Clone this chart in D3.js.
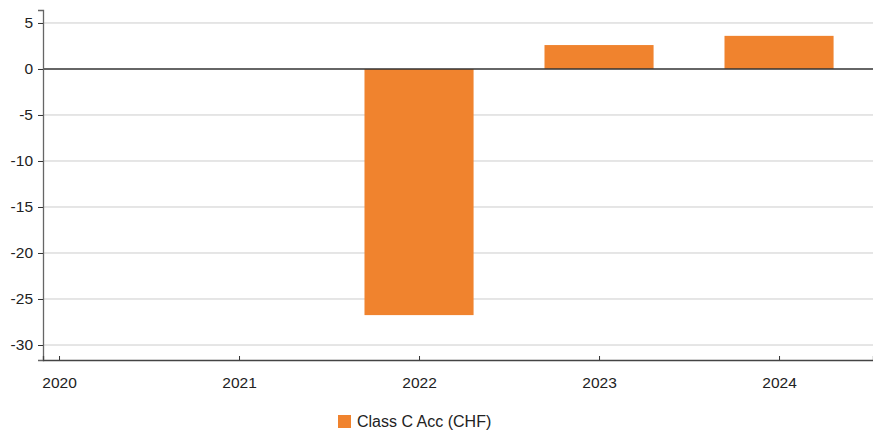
<!DOCTYPE html>
<html>
<head>
<meta charset="utf-8">
<script src="https://cdn.jsdelivr.net/npm/d3@7"></script>
<style>
  body { margin: 0; background: #fff; }
  text { font-family: "Liberation Sans", Arial, sans-serif; }
</style>
</head>
<body>
<svg id="chart" width="873" height="430"></svg>
<script>
// data
var years = [2020, 2021, 2022, 2023, 2024]
var values = [null, null, -26.75, 2.6, 3.6]
var yTicks = [5, 0, -5, -10, -15, -20, -25, -30]
var seriesName = "Class C Acc (CHF)"

var svg = d3.select("#chart")
var plotL = 43, plotR = 873, plotT = 10, plotB = 360

var x = d3.scaleLinear().domain([2019.911, 2024.522]).range([plotL, plotR])
var y = d3.scaleLinear().domain([-31.63, 6.41]).range([plotB, plotT])
var barW = x(2020.606) - x(2020)

// grid
svg.append("g").selectAll("line").data(yTicks.filter(d => d !== 0)).join("line")
  .attr("x1", plotL).attr("x2", plotR)
  .attr("y1", d => y(d)).attr("y2", d => y(d))
  .attr("stroke", "#cccccc").attr("stroke-width", 1)

// bars
svg.append("g").selectAll("rect").data(years.map((d, i) => ({ year: d, v: values[i] })).filter(d => d.v != null))
  .join("rect")
  .attr("x", d => x(d.year) - barW / 2)
  .attr("width", barW)
  .attr("y", d => y(Math.max(0, d.v)))
  .attr("height", d => Math.abs(y(d.v) - y(0)))
  .attr("fill", "#f0832e")

// zero line
svg.append("line").attr("x1", plotL).attr("x2", plotR)
  .attr("y1", y(0)).attr("y2", y(0))
  .attr("stroke", "#333").attr("stroke-width", 1.3)

// y axis
var yAxis = svg.append("g").attr("transform", "translate(" + plotL + ",0)")
  .call(d3.axisLeft(y).tickValues(yTicks).tickSize(5).tickPadding(5).tickFormat(d => String(d)))
yAxis.select(".domain").attr("stroke", "#666").attr("stroke-width", 1.3)
yAxis.selectAll(".tick line").attr("stroke", "#333")
yAxis.selectAll("text").attr("font-size", 15.5).attr("fill", "#222")
  .attr("font-family", "Liberation Sans, Arial, sans-serif")

// x axis
var xAxis = svg.append("g").attr("transform", "translate(0," + plotB + ")")
  .call(d3.axisBottom(x).tickValues(years).tickSize(-4).tickPadding(17).tickFormat(d => String(d)))
xAxis.select(".domain").attr("stroke", "#444").attr("stroke-width", 1.3)
xAxis.selectAll(".tick line").attr("stroke", "#333")
xAxis.selectAll("text").attr("font-size", 15.5).attr("fill", "#222")
  .attr("font-family", "Liberation Sans, Arial, sans-serif")

// legend
var lg = svg.append("g").attr("transform", "translate(338,415)")
lg.append("rect").attr("width", 13).attr("height", 13).attr("fill", "#f0832e")
lg.append("text").attr("x", 19).attr("y", 12).attr("font-size", 16).attr("fill", "#222").text(seriesName)
</script>
</body>
</html>
